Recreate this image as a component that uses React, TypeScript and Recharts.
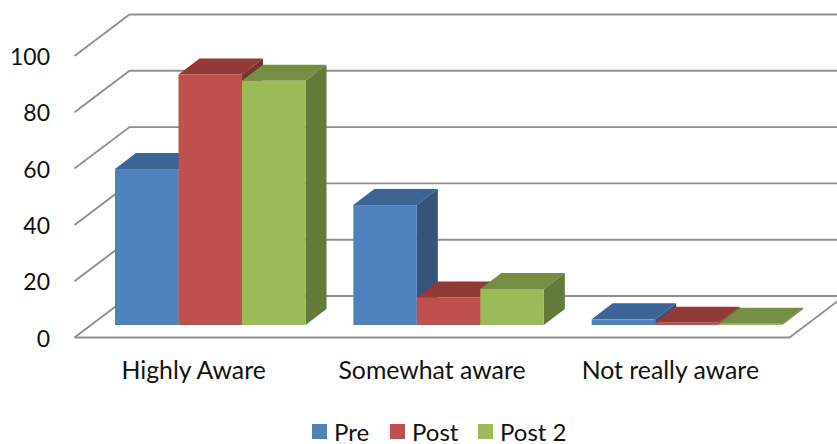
import React from "react";
import {
  Bar,
  BarChart,
  CartesianGrid,
  Legend,
  XAxis,
  YAxis,
} from "recharts";

const categories = ["Highly Aware", "Somewhat aware", "Not really aware"];
const pre = [55.4, 42.6, 2];
const post = [89, 9.8, 0.8];
const post2 = [86.8, 12.8, 0.4];
const yTicks = [0, 20, 40, 60, 80, 100];

const data = categories.map((name, i) => ({
  name,
  pre: pre[i],
  post: post[i],
  post2: post2[i],
}));

const FONT = "Lato, 'Open Sans', sans-serif";
const GRID = "#909090";
const GRID_WIDTH = 1.9;
const PLOT_BOTTOM = 325;
const LEGEND_HEIGHT = 22;

// fake 3D floor: bars stand a little behind the front edge of the floor
const BAR_SHIFT_X = 16.5;
const BAR_SHIFT_Y = 12.5;
const WALL_DX = 55;
const WALL_DY = 41.5;
const BAR_DX = 21;
const BAR_DY = 16;

const makeBox = (topFill: string, sideFill: string) => (props: any) => {
  const { x, y, width, height, fill } = props;
  const r = x + width;
  const b = y + height;
  return (
    <g>
      <polygon
        points={`${x},${y} ${x + BAR_DX},${y - BAR_DY} ${r + BAR_DX},${y - BAR_DY} ${r},${y}`}
        fill={topFill}
      />
      <polygon
        points={`${r},${y} ${r + BAR_DX},${y - BAR_DY} ${r + BAR_DX},${b - BAR_DY} ${r},${b}`}
        fill={sideFill}
      />
      <rect x={x} y={y} width={width} height={height} fill={fill} />
    </g>
  );
};

// each gridline runs along the side wall, then across the back wall
const gridLine = (props: any) => {
  const { x1, x2, y1, index } = props;
  const fx = x1 - BAR_SHIFT_X;
  const fy = y1 + BAR_SHIFT_Y;
  const line = `${fx},${fy} ${fx + WALL_DX},${fy - WALL_DY} ${x2 + 40},${fy - WALL_DY}`;
  const isFloor = Math.abs(y1 - PLOT_BOTTOM) < 1;
  return (
    <g key={index}>
      <polyline points={line} fill="none" stroke={GRID} strokeWidth={GRID_WIDTH} />
      {isFloor && (
        <polyline
          points={`${fx},${fy} ${x2 - BAR_SHIFT_X},${fy} ${x2 - BAR_SHIFT_X + WALL_DX},${fy - WALL_DY}`}
          fill="none"
          stroke={GRID}
          strokeWidth={GRID_WIDTH}
        />
      )}
    </g>
  );
};

const YTick = ({ y, payload }: any) => (
  <text
    x={50}
    y={y + BAR_SHIFT_Y + 9}
    textAnchor="end"
    fontFamily={FONT}
    fontSize={23}
    fill="#111"
  >
    {payload.value}
  </text>
);

const XTick = ({ x, payload }: any) => (
  <text
    x={x - BAR_SHIFT_X}
    y={379}
    textAnchor="middle"
    fontFamily={FONT}
    fontSize={24.8}
    fill="#111"
  >
    {payload.value}
  </text>
);

const LegendItems = ({ payload }: any) => (
  <div style={{ position: "relative", width: 837, height: LEGEND_HEIGHT }}>
    {(payload || []).map((item: any, i: number) => (
      <div
        key={item.value}
        style={{
          position: "absolute",
          left: [312, 390, 478][i],
          top: 0,
          height: LEGEND_HEIGHT,
          display: "flex",
          alignItems: "center",
          fontFamily: FONT,
          fontSize: 24,
          lineHeight: `${LEGEND_HEIGHT}px`,
          color: "#111",
          whiteSpace: "nowrap",
        }}
      >
        <span
          style={{
            width: 15,
            height: 15,
            marginRight: 7,
            background: item.color,
            display: "inline-block",
          }}
        />
        {item.value}
      </div>
    ))}
  </div>
);

export default function App() {
  return (
    <div style={{ position: "absolute", left: 0, top: 0, width: 837, height: 444, overflow: "hidden", background: "#fff" }}>
      <BarChart
        width={837}
        height={444}
        data={data}
        margin={{ top: 43.5, right: 31, bottom: 118 - LEGEND_HEIGHT, left: 90 }}
        barGap={0}
        barSize={63.5}
      >
        <CartesianGrid vertical={false} horizontal={gridLine} />
        <XAxis
          dataKey="name"
          height={1}
          axisLine={false}
          tickLine={false}
          interval={0}
          tick={<XTick />}
        />
        <YAxis
          width={1}
          domain={[0, 100]}
          ticks={yTicks}
          axisLine={false}
          tickLine={false}
          tick={<YTick />}
        />
        <Legend
          content={<LegendItems />}
          itemSorter={null}
          wrapperStyle={{ position: "absolute", left: 0, top: 420.5, width: 837 }}
        />
        <Bar dataKey="pre" name="Pre" fill="#4f81bd" shape={makeBox("#3c6494", "#34547c")} isAnimationActive={false} />
        <Bar dataKey="post" name="Post" fill="#c0504d" shape={makeBox("#913b39", "#7c3230")} isAnimationActive={false} />
        <Bar dataKey="post2" name="Post 2" fill="#9bbb59" shape={makeBox("#768e43", "#647a39")} isAnimationActive={false} />
      </BarChart>
    </div>
  );
}
